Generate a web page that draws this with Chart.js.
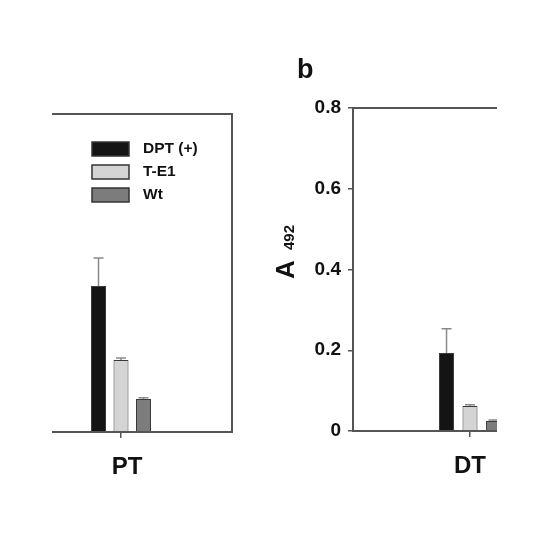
<!DOCTYPE html>
<html>
<head>
<meta charset="utf-8">
<script src="https://cdn.jsdelivr.net/npm/chart.js@4/dist/chart.umd.min.js"></script>
<style>
  html, body { margin: 0; padding: 0; background: #fff; }
  #stage { position: relative; width: 550px; height: 550px; overflow: hidden; background: #fff; }
  .clip { position: absolute; top: 0; height: 550px; overflow: hidden; }
  .clip canvas { position: absolute; top: 0; }
</style>
</head>
<body>
<div id="stage">
  <div class="clip" id="wrapA" style="left:52px;width:190px;"><canvas id="chartA" width="550" height="550" style="left:-52px"></canvas></div>
  <div class="clip" id="wrapB" style="left:0;width:497px;"><canvas id="chartB" width="650" height="550" style="left:0"></canvas></div>
</div>
<script>
// data (panel a is cropped on the left, panel b on the right)
const seriesLabels = ["DPT (+)", "T-E1", "Wt"];
const seriesColors = ["#141414", "#d4d4d4", "#7c7c7c"];

const categoriesA = ["PT"];
const dptA = [0.367];
const te1A = [0.181];
const wtA = [0.083];
const dptErrA = [0.071];
const te1ErrA = [0.005];
const wtErrA = [0.003];

const categoriesB = ["DT"];
const dptB = [0.193];
const te1B = [0.062];
const wtB = [0.025];
const dptErrB = [0.06];
const te1ErrB = [0.003];
const wtErrB = [0.002];

const yTicks = [0, 0.2, 0.4, 0.6, 0.8];

const FONT = "'Liberation Sans', Arial, Helvetica, sans-serif";
const AXIS = "#555";

function makeDatasets(vals, errs, catPct, barPct) {
  return vals.map((v, i) => ({
    label: seriesLabels[i],
    data: v,
    errors: errs[i],
    backgroundColor: seriesColors[i],
    borderColor: "#3a3a3a",
    borderWidth: 1,
    borderSkipped: "bottom",
    categoryPercentage: catPct,
    barPercentage: barPct,
  }));
}

// frame round the plot
const framePlugin = {
  id: "frame",
  afterDraw(chart) {
    const { ctx, chartArea: a } = chart;
    ctx.save();
    ctx.strokeStyle = AXIS;
    ctx.lineWidth = 2;
    ctx.strokeRect(a.left, a.top, a.right - a.left, a.bottom - a.top);
    ctx.restore();
  },
};

// one-sided error bars, read from dataset.errors
const errorBarPlugin = {
  id: "errBars",
  afterDatasetsDraw(chart) {
    const { ctx } = chart;
    const y = chart.scales.y;
    ctx.save();
    ctx.strokeStyle = "#8a8a8a";
    ctx.lineWidth = 1.5;
    chart.data.datasets.forEach((ds, di) => {
      const meta = chart.getDatasetMeta(di);
      meta.data.forEach((bar, i) => {
        const e = ds.errors?.[i];
        if (!e) return;
        const yTop = y.getPixelForValue(ds.data[i] + e);
        ctx.beginPath();
        ctx.moveTo(bar.x, bar.y);
        ctx.lineTo(bar.x, yTop);
        ctx.moveTo(bar.x - 5, yTop);
        ctx.lineTo(bar.x + 5, yTop);
        ctx.stroke();
      });
    });
    ctx.restore();
  },
};

// legend drawn inside panel a
const boxLegendPlugin = {
  id: "boxLegend",
  afterDraw(chart) {
    const { ctx } = chart;
    ctx.save();
    ctx.font = `bold 15.5px ${FONT}`;
    ctx.textBaseline = "middle";
    chart.data.datasets.forEach((ds, i) => {
      const top = 142 + i * 23;
      ctx.fillStyle = ds.backgroundColor;
      ctx.fillRect(92, top, 37, 14);
      ctx.strokeStyle = "#333";
      ctx.lineWidth = 1.5;
      ctx.strokeRect(92, top, 37, 14);
      ctx.fillStyle = "#111";
      ctx.fillText(ds.label, 143, top + 7);
    });
    ctx.restore();
  },
};

// panel letter and y title with subscript
const panelBTextPlugin = {
  id: "panelBText",
  afterDraw(chart) {
    const { ctx } = chart;
    ctx.save();
    ctx.fillStyle = "#111";
    ctx.textBaseline = "alphabetic";
    ctx.font = `bold 27px ${FONT}`;
    ctx.fillText("b", 297, 78);
    ctx.translate(294, 279);
    ctx.rotate(-Math.PI / 2);
    ctx.font = `bold 26px ${FONT}`;
    ctx.fillText("A", 0, 0);
    ctx.font = `bold 15px ${FONT}`;
    ctx.fillText("492", 29, 0);
    ctx.restore();
  },
};

function baseOptions(padding, xHeight, labelOffset) {
  return {
    responsive: false,
    animation: false,
    devicePixelRatio: 1,
    layout: { padding },
    plugins: { legend: { display: false }, tooltip: { enabled: false } },
    scales: {
      x: {
        offset: true,
        border: { display: false },
        grid: { offset: false, drawOnChartArea: false, drawTicks: true, tickLength: 6, color: AXIS, lineWidth: 1.5 },
        ticks: { color: "#111", font: { family: FONT, size: 24, weight: "bold" }, padding: 15, labelOffset },
        afterFit(s) { s.height = xHeight; },
      },
      y: {
        min: 0,
        max: 0.8,
        afterBuildTicks(s) { s.ticks = yTicks.map(v => ({ value: v })); },
        border: { display: false },
        grid: { drawOnChartArea: false, drawTicks: true, tickLength: 5, color: AXIS, lineWidth: 1.5 },
        ticks: {
          color: "#111",
          padding: 7,
          font: { family: FONT, size: 19, weight: "bold" },
          callback: v => (v === 0 ? "0" : v.toFixed(1)),
        },
      },
    },
  };
}

// panel a: plot 10..232 x 114..432 (left part cut away)
const optsA = baseOptions({ left: 10, right: 318, top: 114, bottom: 0 }, 118, 6);
optsA.scales.y.display = false;
new Chart(document.getElementById("chartA"), {
  type: "bar",
  data: {
    labels: categoriesA,
    datasets: makeDatasets([dptA, te1A, wtA], [dptErrA, te1ErrA, wtErrA], 0.304, 0.667),
  },
  options: optsA,
  plugins: [framePlugin, errorBarPlugin, boxLegendPlugin],
});

// panel b: plot 353..587 x 108..431 (right part cut away)
const optsB = baseOptions({ left: 270, right: 63, top: 108, bottom: 0 }, 119, 0);
optsB.scales.y.afterFit = s => { s.width = 83; };
new Chart(document.getElementById("chartB"), {
  type: "bar",
  data: {
    labels: categoriesB,
    datasets: makeDatasets([dptB, te1B, wtB], [dptErrB, te1ErrB, wtErrB], 0.301, 0.64),
  },
  options: optsB,
  plugins: [framePlugin, errorBarPlugin, panelBTextPlugin],
});
</script>
</body>
</html>
